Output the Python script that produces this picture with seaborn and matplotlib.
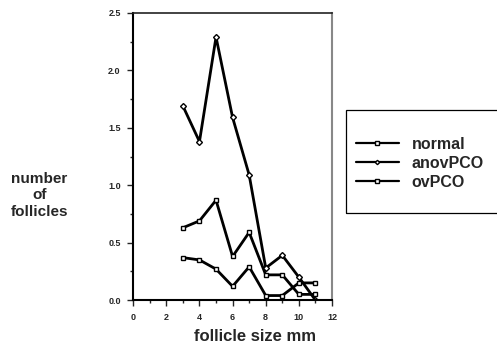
import numpy as np
import pandas as pd
import seaborn as sns
import matplotlib.pyplot as plt
from matplotlib.ticker import MultipleLocator
from matplotlib.patches import Rectangle

# follicle size (mm) and mean number of follicles per group
sizes = [3, 4, 5, 6, 7, 8, 9, 10, 11]
normal = [0.63, 0.69, 0.87, 0.38, 0.59, 0.22, 0.22, 0.05, 0.05]
anovPCO = [1.69, 1.38, 2.29, 1.59, 1.09, 0.28, 0.39, 0.20, 0.0]
ovPCO = [0.37, 0.35, 0.27, 0.12, 0.29, 0.04, 0.04, 0.15, 0.15]
groups = ['normal', 'anovPCO', 'ovPCO']

df = pd.DataFrame({
    'size': sizes * 3,
    'value': normal + anovPCO + ovPCO,
    'group': [g for g in groups for _ in sizes],
})

sns.set_style('ticks')
plt.rcParams['font.family'] = ['Liberation Sans', 'DejaVu Sans']
plt.rcParams['font.weight'] = 'bold'

fig = plt.figure(figsize=(4.97, 3.49), dpi=100)
ax = fig.add_axes([0.268, 0.140, 0.400, 0.823])

sns.lineplot(data=df, x='size', y='value', hue='group', style='group',
             markers={'normal': 's', 'anovPCO': 'D', 'ovPCO': 's'},
             dashes=False, palette=['black'] * 3, linewidth=2.0,
             markersize=3, markerfacecolor='white', markeredgecolor='black',
             markeredgewidth=1.0, ax=ax, legend=False)

ax.set_xlim(0, 12)
ax.set_ylim(0, 2.5)
ax.xaxis.set_major_locator(MultipleLocator(2))
ax.xaxis.set_minor_locator(MultipleLocator(1))
ax.yaxis.set_major_locator(MultipleLocator(0.5))
ax.yaxis.set_minor_locator(MultipleLocator(0.25))
ax.set_xticklabels([f'{int(t)}' for t in ax.get_xticks()])
ax.set_yticklabels([f'{t:.1f}' for t in ax.get_yticks()])
ax.tick_params(which='major', length=4, width=1, labelsize=6.5, pad=5)
ax.tick_params(which='minor', length=2.5, width=1)
for lab in ax.get_xticklabels() + ax.get_yticklabels():
    lab.set_fontweight('bold')

for s in ['left', 'bottom']:
    ax.spines[s].set_linewidth(1.5)
    ax.spines[s].set_color('black')
ax.spines['top'].set_color('#222222')
ax.spines['top'].set_linewidth(1.2)
ax.spines['right'].set_color('#888888')
ax.spines['right'].set_linewidth(1.5)

ax.set_xlabel('')
ax.set_ylabel('')
fig.text(0.513, 0.035, 'follicle size mm', ha='center', va='center',
         fontsize=12, fontweight='bold')
fig.text(0.079, 0.44, 'number\nof\nfollicles', ha='center', va='center',
         fontsize=11, fontweight='bold', linespacing=1.25)

# legend box on the right
fig.patches.append(Rectangle((0.696, 0.390), 0.4, 0.295, transform=fig.transFigure,
                             fill=False, edgecolor='black', linewidth=0.9))
handles = [plt.Line2D([], [], color='black', lw=1.6, marker=m, markersize=2.2,
                      markerfacecolor='white', markeredgecolor='black')
           for m in ['s', 'D', 's']]
leg = fig.legend(handles, groups, loc='upper left',
                 bbox_to_anchor=(0.716, 0.608), frameon=False,
                 prop={'weight': 'bold', 'size': 11.5}, handlelength=2.7,
                 labelspacing=0.25, borderpad=0, borderaxespad=0,
                 handletextpad=0.8)

fig.savefig('out.png', dpi=100)
